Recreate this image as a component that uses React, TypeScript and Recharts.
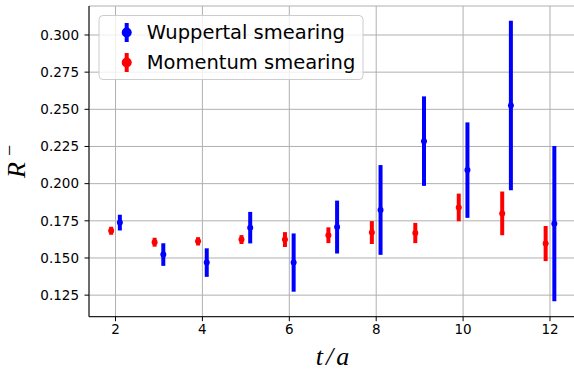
import React from 'react';
import { ScatterChart, Scatter, XAxis, YAxis, CartesianGrid, ErrorBar, Legend, Label } from 'recharts';

// t/a values
const tValues = [2, 3, 4, 5, 6, 7, 8, 9, 10, 11, 12];

// Wuppertal smearing (blue)
const wuppertalR = [0.1738, 0.1523, 0.1469, 0.1704, 0.1469, 0.1708, 0.1823, 0.2286, 0.2091, 0.2526, 0.1731];
const wuppertalErr = [0.0053, 0.0076, 0.0096, 0.0106, 0.0196, 0.0178, 0.0302, 0.0301, 0.0321, 0.057, 0.0522];

// Momentum smearing (red)
const momentumR = [0.1683, 0.1606, 0.1612, 0.1624, 0.1624, 0.1653, 0.1671, 0.1668, 0.184, 0.18, 0.1597];
const momentumErr = [0.0027, 0.003, 0.0028, 0.003, 0.005, 0.0053, 0.0077, 0.0068, 0.0093, 0.0147, 0.0118];

const xTicks = [2, 4, 6, 8, 10, 12];
const yTicks = [0.125, 0.15, 0.175, 0.2, 0.225, 0.25, 0.275, 0.3];

const seriesNames = ['Wuppertal smearing', 'Momentum smearing'];
const seriesColors = ['#0000ff', '#ff0000'];

const SHIFT = 0.1;

const wuppertalData = tValues.map((t, i) => ({ x: t + SHIFT, y: wuppertalR[i], err: wuppertalErr[i] }));
const momentumData = tValues.map((t, i) => ({ x: t - SHIFT, y: momentumR[i], err: momentumErr[i] }));

const tickStyle = { fontFamily: 'DejaVu Sans', fontSize: 13.5, fill: '#000' };

const dot = (color: string) => (props: any) => (
  <circle cx={props.cx} cy={props.cy} r={3} fill={color} />
);

const renderLegend = () => (
  <svg width={268} height={68} style={{ display: 'block' }}>
    <rect x={1} y={0.5} width={264} height={64} rx={4} fill="#fff" fillOpacity={0.8} stroke="#cccccc" />
    {seriesNames.map((name, i) => {
      const cy = 17.5 + i * 30;
      return (
        <g key={name}>
          <line x1={28.7} x2={28.7} y1={cy - 9.5} y2={cy + 9.5} stroke={seriesColors[i]} strokeWidth={4} />
          <circle cx={28.7} cy={cy} r={5} fill={seriesColors[i]} />
          <text x={48.7} y={cy + 6.8} fontFamily="DejaVu Sans" fontSize={19.5} fill="#000">
            {name}
          </text>
        </g>
      );
    })}
  </svg>
);

const renderYLabel = () => (
  <text transform="rotate(-90)" x={-178} y={25} fontFamily="Liberation Serif" fontStyle="italic" fontSize={26} fill="#000">
    R
    <tspan dx={6} dy={-9} fontStyle="normal" fontSize={20}>−</tspan>
  </text>
);

const renderXLabel = () => (
  <text x={332.5} y={365} textAnchor="middle" fontFamily="Liberation Serif" fontStyle="italic" fontSize={26} fill="#000">
    <tspan>t</tspan>
    <tspan dx={3}>/</tspan>
    <tspan dx={3}>a</tspan>
  </text>
);

export default function App() {
  return (
    <div style={{ position: 'absolute', left: 0, top: 0, width: 574, height: 374, overflow: 'hidden', background: '#fff' }}>
      <ScatterChart width={580} height={374} margin={{ top: 6, right: 3.5, bottom: 0, left: 0 }}>
        <CartesianGrid stroke="#b0b0b0" strokeWidth={1} />
        <XAxis
          type="number"
          dataKey="x"
          domain={[1.39, 12.61]}
          ticks={xTicks}
          height={57.3}
          allowDataOverflow
          tick={tickStyle}
          tickSize={4.5}
          tickMargin={3}
          axisLine={{ stroke: '#000' }}
          tickLine={{ stroke: '#000' }}
        >
          <Label content={renderXLabel} />
        </XAxis>
        <XAxis
          xAxisId="top"
          orientation="top"
          type="number"
          dataKey="x"
          domain={[1.39, 12.61]}
          height={0}
          tick={false}
          tickLine={false}
          axisLine={{ stroke: '#000' }}
        />
        <YAxis
          type="number"
          dataKey="y"
          domain={[0.1105, 0.3195]}
          ticks={yTicks}
          width={89}
          allowDataOverflow
          tick={tickStyle}
          tickSize={4.5}
          tickMargin={5.5}
          tickFormatter={(v: number) => v.toFixed(3)}
          axisLine={{ stroke: '#000' }}
          tickLine={{ stroke: '#000' }}
        >
          <Label content={renderYLabel} />
        </YAxis>
        <Legend
          content={renderLegend}
          layout="vertical"
          align="center"
          verticalAlign="middle"
          wrapperStyle={{ left: 98, top: 15, width: 268, height: 68 }}
        />
        <Scatter name={seriesNames[0]} data={wuppertalData} fill={seriesColors[0]} shape={dot(seriesColors[0])} isAnimationActive={false}>
          <ErrorBar dataKey="err" direction="y" width={0} stroke={seriesColors[0]} strokeWidth={4} isAnimationActive={false} />
        </Scatter>
        <Scatter name={seriesNames[1]} data={momentumData} fill={seriesColors[1]} shape={dot(seriesColors[1])} isAnimationActive={false}>
          <ErrorBar dataKey="err" direction="y" width={0} stroke={seriesColors[1]} strokeWidth={4} isAnimationActive={false} />
        </Scatter>
      </ScatterChart>
    </div>
  );
}
